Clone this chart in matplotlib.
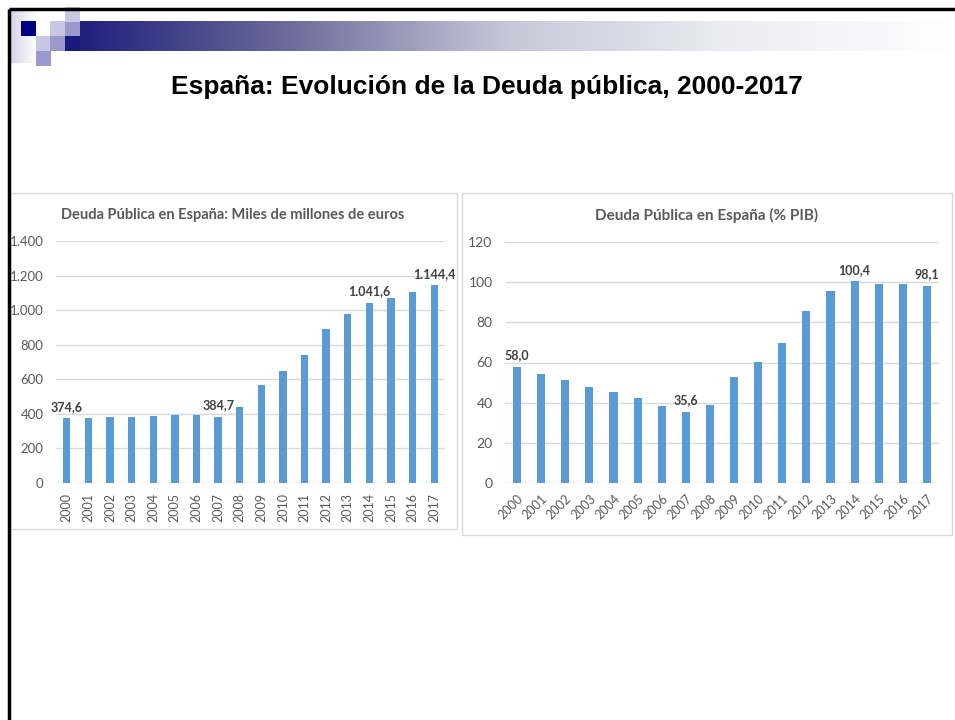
import matplotlib
matplotlib.use("Agg")
import matplotlib.pyplot as plt
import numpy as np
from matplotlib.colors import LinearSegmentedColormap
from matplotlib.patches import Rectangle

# Datos
years = [str(y) for y in range(2000, 2018)]
deuda_meur = [374.6, 378, 384, 382, 389, 393, 392, 384.7, 440, 569,
              649, 743, 891, 979, 1041.6, 1073, 1107, 1144.4]
deuda_pib = [58.0, 54.1, 51.1, 47.6, 45.1, 42.2, 38.5, 35.6, 39.0, 52.6,
             60.2, 69.7, 85.6, 95.6, 100.4, 99.1, 99.0, 98.1]
labels_meur = [0, 7, 14, 17]   # barras con etiqueta
labels_pib = [0, 7, 14, 17]

TITLE = "España: Evolución de la Deuda pública, 2000-2017"
TITLE_LEFT = "Deuda Pública en España: Miles de millones de euros"
TITLE_RIGHT = "Deuda Pública en España (% PIB)"

W, H = 955, 720
BAR = "#5b9bd5"
GRID = "#d9d9d9"
TXT = "#595959"
CHART_FONT = ["Lato", "DejaVu Sans"]


def es_num(v, dec=1):
    s = f"{v:,.{dec}f}"
    return s.replace(",", "X").replace(".", ",").replace("X", ".")


def px_axes(fig, x0, y0, x1, y1):
    """Axes from pixel box (top-left origin)."""
    return fig.add_axes([x0 / W, 1 - y1 / H, (x1 - x0) / W, (y1 - y0) / H])


fig = plt.figure(figsize=(W / 100, H / 100), dpi=100)

# Fondo / decoracion de la diapositiva
bg = fig.add_axes([0, 0, 1, 1])
bg.set_xlim(0, W)
bg.set_ylim(H, 0)
bg.axis("off")

cmap = LinearSegmentedColormap.from_list(
    "hdr", ["#1a1a7a", "#6c6c9a", "#c8c8da", "#ececf2", "#ffffff"])
grad = np.linspace(0, 1, 256).reshape(1, -1)
bg.imshow(grad, cmap=cmap, extent=[65, W, 51, 21], aspect="auto", zorder=1)
left_cmap = LinearSegmentedColormap.from_list("lft", ["#d4d4e8", "#ffffff"])
bg.imshow(grad, cmap=left_cmap, extent=[10, 36, 63, 10], aspect="auto", zorder=1)

squares = [
    (21, 21, "#000080"), (50, 21, "#c8c8e4"), (65, 21, "#9999cc"),
    (65, 7, "#c8c8e4"), (36, 36, "#c8c8e4"), (50, 36, "#9999cc"),
    (36, 51, "#9999cc"),
]
for sx, sy, c in squares:
    bg.add_patch(Rectangle((sx, sy), 15, 15, color=c, lw=0, zorder=2))
bg.add_patch(Rectangle((65, 36), 15, 15, color="#1a1a7a", lw=0, zorder=2))

# marco negro
bg.plot([8.5, W], [8.5, 8.5], color="black", lw=2.5, zorder=3, solid_capstyle="butt")
bg.plot([8.5, 8.5], [8.5, H], color="black", lw=2.5, zorder=3, solid_capstyle="butt")

# bordes de los graficos
bg.add_patch(Rectangle((10, 193), 447, 336, fill=False, ec=GRID, lw=1, zorder=2))
bg.add_patch(Rectangle((462, 193), 490, 342, fill=False, ec=GRID, lw=1, zorder=2))

fig.text(487 / W, 1 - 87 / H, TITLE, ha="center", va="center",
         fontsize=19, fontweight="bold", family=["Liberation Sans", "DejaVu Sans"])


def bar_chart(ax, values, ymax, step, lbl_idx, rot, thousands, ysize):
    x = np.arange(len(values))
    ax.bar(x, values, width=0.34, color=BAR, zorder=3)
    ax.set_xlim(-0.5, len(values) - 0.5)
    ax.set_ylim(0, ymax)
    ticks = np.arange(0, ymax + 1, step)
    ax.set_yticks(ticks)
    if thousands:
        ax.set_yticklabels([es_num(t, 0) for t in ticks])
    else:
        ax.set_yticklabels([str(int(t)) for t in ticks])
    ax.grid(axis="y", color=GRID, lw=1, zorder=0)
    for s in ax.spines.values():
        s.set_visible(False)
    ax.tick_params(axis="y", length=0, colors=TXT, labelsize=ysize, pad=9)
    ax.tick_params(axis="x", length=0, colors=TXT, labelsize=9, pad=7)
    ax.set_xticks(x)
    if rot == 90:
        ax.set_xticklabels(years, rotation=90, ha="center", va="top")
    else:
        ax.set_xticklabels(years, rotation=45, ha="right", va="top",
                           rotation_mode="anchor")
    for lab in ax.get_xticklabels() + ax.get_yticklabels():
        lab.set_family(CHART_FONT)
        lab.set_color(TXT)
    for i in lbl_idx:
        ax.annotate(es_num(values[i]), (i, values[i]), xytext=(0, 4),
                    textcoords="offset points", ha="center", va="bottom",
                    fontsize=9, fontweight="bold", color="#404040",
                    family=CHART_FONT, zorder=4)


ax1 = px_axes(fig, 56, 241, 445, 483)
bar_chart(ax1, deuda_meur, 1400, 200, labels_meur, 90, True, 9.5)
fig.text(233 / W, 1 - 215 / H, TITLE_LEFT, ha="center", va="center",
         fontsize=10.5, fontweight="bold", color=TXT, family=CHART_FONT)

ax2 = px_axes(fig, 505, 242, 939, 483)
bar_chart(ax2, deuda_pib, 120, 20, labels_pib, 45, False, 10)
fig.text(707 / W, 1 - 215 / H, TITLE_RIGHT, ha="center", va="center",
         fontsize=11, fontweight="bold", color=TXT, family=CHART_FONT)

fig.savefig("out.png", dpi=100)
